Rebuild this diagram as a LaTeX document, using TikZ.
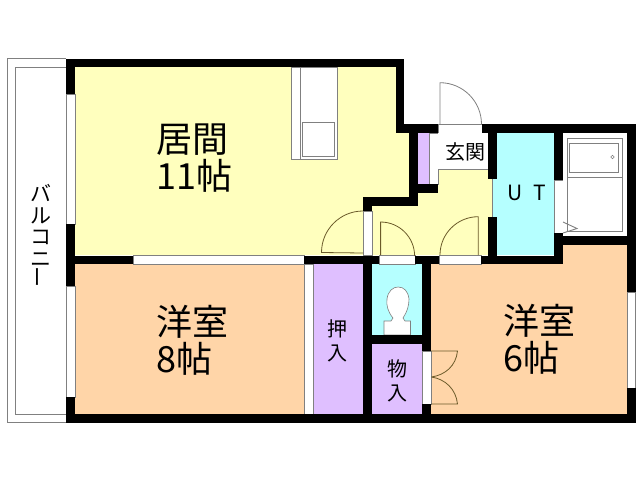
\documentclass[tikz,border=0pt]{standalone}
\usepackage{fontspec}
\setmainfont{Noto Sans CJK JP}
\definecolor{cyel}{HTML}{FFFFBE}
\definecolor{cpea}{HTML}{FFD5A8}
\definecolor{clav}{HTML}{DFBFFF}
\definecolor{ccya}{HTML}{B5FFFF}
\definecolor{cgry}{HTML}{808080}
\definecolor{cdoor}{HTML}{6B5A2A}
\tikzset{
  wall/.style={fill=black,draw=none},
  thin gray/.style={draw=cgry,line width=0.9pt},
  doorline/.style={draw=cdoor,line width=0.8pt},
  winbox/.style={fill=white,draw=cgry,line width=0.8pt},
  big/.style={font=\fontsize{36}{38}\selectfont,align=left,inner sep=0pt,anchor=north west},
  mid/.style={font=\fontsize{20}{24}\selectfont,align=center,inner sep=0pt},
}
\begin{document}
\begin{tikzpicture}[x=1pt,y=-1pt]
\useasboundingbox (0,0) rectangle (640,480);
\fill[white] (0,0) rectangle (640,480);
% balcony
\draw[thin gray,fill=white] (66,58.5) -- (7,58.5) -- (7,422.5) -- (66,422.5);
\draw[thin gray] (66,67) -- (15.5,67) -- (15.5,414) -- (66,414);
% rooms
\fill[cyel] (75,67) -- (396,67) -- (396,133) -- (409,133) -- (409,197) -- (363,197) -- (363,255) -- (75,255) -- cycle;
\fill[cyel] (372,205) -- (418,205) -- (418,192) -- (438,192) -- (438,169) -- (492,169) -- (492,255) -- (372,255) -- cycle;
\fill[cpea] (75,264) rectangle (304,414);
\fill[cpea] (431,264) -- (563,264) -- (563,245) -- (627,245) -- (627,414) -- (431,414) -- cycle;
\fill[clav] (313,264) rectangle (363,414);
\fill[clav] (372,344) rectangle (422,414);
\fill[clav] (418,133) rectangle (429,184);
\fill[ccya] (372,264) rectangle (422,335);
\fill[ccya] (492,133) rectangle (554,255);
% white strips and windows
\draw[winbox] (66,94) rectangle (75,224);
\draw[winbox] (66,286) rectangle (75,397);
\draw[winbox] (133,255.5) rectangle (304,264);
\draw[winbox] (304,264) rectangle (313,414);
\draw[winbox] (379,255.5) rectangle (415,264);
\draw[winbox] (439,255.5) rectangle (481,264);
\draw[winbox] (363,211) rectangle (372,255.5);
\draw[winbox] (422,351) rectangle (431,404);
\draw[winbox] (627,292) rectangle (635,388);
\draw[winbox] (554,180) rectangle (563,233);
\draw[winbox] (429,133) rectangle (438,184);
\draw[winbox] (438,124) rectangle (482,133);
\draw[fill=white,draw=none] (438,133) rectangle (488,169);
\draw[thin gray] (438,169) -- (488,169);
\draw[thin gray] (492.5,179) -- (492.5,217);
% kitchen counter
\draw[thin gray,fill=white] (291,67) rectangle (337,159);
\draw[thin gray] (300,67) -- (300,159);
\draw[thin gray] (302,122.7) rectangle (334.7,156);
% bath
\fill[white] (563,133) rectangle (627,236);
\draw[thin gray] (567,138) rectangle (622.5,231);
\draw[thin gray] (569.5,143) rectangle (618,172.5);
\draw[thin gray] (567,177.5) -- (622.5,177.5);
\draw[cgry,line width=0.6pt] (612.5,157) circle (1.8);
\draw[thin gray] (563,222) -- (577,228.5) -- (563,233);
% toilet
\fill[white,draw=cgry,line width=0.6pt] (384,335) -- (384,321) -- (391,321) -- (393,318)
  .. controls (388,312) and (386,305) .. (387,299)
  .. controls (388,291) and (393,287) .. (398,287)
  .. controls (404,287) and (408,291) .. (409,299)
  .. controls (409,306) and (407,312) .. (403,318) -- (405,321) -- (410.5,321) -- (410.5,335) -- cycle;
% doors
\draw[doorline] (363,253) -- (321.5,252.5) arc[start angle=180,end angle=270,radius=41.5];
\draw[doorline] (380.6,255) -- (380.6,222) arc[start angle=270,end angle=360,radius=34];
\draw[doorline] (478.3,255) -- (478.3,216.7) arc[start angle=270,end angle=180,radius=38.3];
\draw[doorline,cgry] (440,124) -- (440,82.7) arc[start angle=270,end angle=360,radius=41.5];
\draw[doorline] (431,351) -- (457.5,351) .. controls (456,366) and (445,375) .. (431.5,377);
\draw[doorline] (431,404) -- (457.5,404) .. controls (456,389) and (445,379) .. (431.5,377);
% walls
\fill[wall] (66,58.5) rectangle (404,67);
\fill[wall] (66,58.5) rectangle (75,94);
\fill[wall] (66,224) rectangle (75,286);
\fill[wall] (66,397) rectangle (75,423);
\fill[wall] (66,414) rectangle (635.5,423);
\fill[wall] (66,255.5) rectangle (133,264);
\fill[wall] (304,255.5) rectangle (379,264);
\fill[wall] (415,255.5) rectangle (439,264);
\fill[wall] (481,255.5) rectangle (563,264);
\fill[wall] (396,58.5) rectangle (404,133);
\fill[wall] (396,124) rectangle (438,133);
\fill[wall] (409,124) rectangle (418,205.5);
\fill[wall] (409,184) rectangle (438,192.5);
\fill[wall] (363,197) rectangle (418,205.5);
\fill[wall] (363,197) rectangle (372,211);
\fill[wall] (363,255.5) rectangle (372,423);
\fill[wall] (363,335) rectangle (431,344);
\fill[wall] (422,255.5) rectangle (431,351);
\fill[wall] (422,404) rectangle (431,423);
\fill[wall] (482,124) rectangle (635.5,133);
\fill[wall] (488,124) rectangle (497,179);
\fill[wall] (488,217) rectangle (497,264);
\fill[wall] (554,124) rectangle (563,180);
\fill[wall] (554,233) rectangle (563,264);
\fill[wall] (554,236) rectangle (635.5,245);
\fill[wall] (627,124) rectangle (635.5,292);
\fill[wall] (627,388) rectangle (635.5,423);
% labels
\node[big] (living) at (156,124) {居間\\[-1pt]11帖};
\node[big] (west8) at (156,305) {洋室\\[-1pt]8帖};
\node[big] (west6) at (503,304) {洋室\\[-1pt]6帖};
\node[mid,anchor=center] (genkan) at (465,152) {玄関};
\node[inner sep=0pt,font=\fontsize{21}{24}\selectfont] (ut) at (527,193) {U\hspace{11pt}T};
\node[mid] (oshi) at (337,341) {押\\入};
\node[mid] (mono) at (397,381) {物\\入};
\node[mid,font=\fontsize{21}{21.5}\selectfont] (balc) at (41,236) {バ\\ル\\コ\\ニ\\\rotatebox{90}{ー}};
\end{tikzpicture}
\end{document}
